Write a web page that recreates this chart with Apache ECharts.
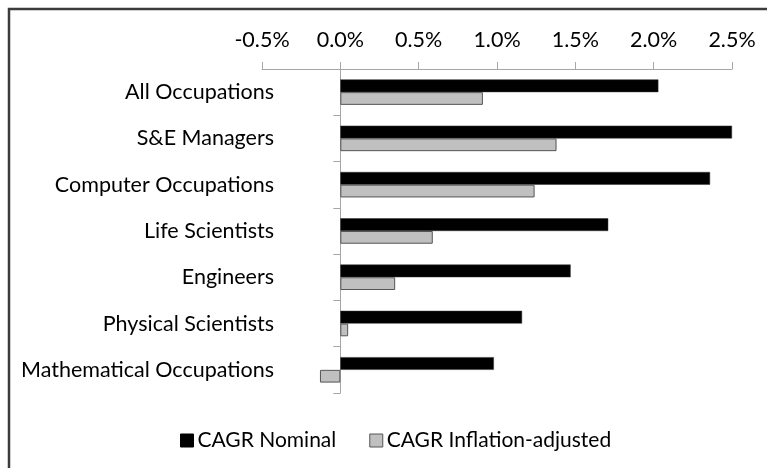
<!DOCTYPE html>
<html>
<head>
<meta charset="utf-8">
<script src="https://cdn.jsdelivr.net/npm/echarts@6/dist/echarts.min.js"></script>
<style>
html,body{margin:0;padding:0;background:#fff;}
#chart{width:767px;height:468px;}
</style>
</head>
<body>
<div id="chart"></div>
<script>
var categories = ["All Occupations","S&E Managers","Computer Occupations","Life Scientists","Engineers","Physical Scientists","Mathematical Occupations"];
var nominal = [2.03, 2.50, 2.36, 1.71, 1.47, 1.16, 0.98];
var inflationAdjusted = [0.91, 1.38, 1.24, 0.59, 0.35, 0.05, -0.13];
var seriesNames = ["CAGR Nominal", "CAGR Inflation-adjusted"];
var axisMin = -0.5, axisMax = 2.5, axisStep = 0.5;

var FONT = 'Lato';
var chart = echarts.init(document.getElementById('chart'), null, {renderer:'canvas'});
chart.setOption({
  animation: false,
  backgroundColor: '#fff',
  textStyle: {fontFamily: FONT},
  graphic: [{
    type: 'rect', shape: {x: 9, y: 9, width: 900, height: 600},
    style: {fill: 'none', stroke: '#3c3c3c', lineWidth: 2.5}, silent: true
  }],
  grid: {left: 262, right: 35, top: 69, bottom: 75, containLabel: false, outerBoundsMode: 'none'},
  legend: {
    left: 175, top: 425,
    itemWidth: 13, itemHeight: 13, itemGap: 33,
    icon: 'rect',
    textStyle: {fontFamily: FONT, fontSize: 21, color: '#000', padding: [0,0,0,-1]},
    data: [
      {name: seriesNames[0], itemStyle: {color: '#000', borderColor: '#000', borderWidth: 1}},
      {name: seriesNames[1], itemStyle: {color: '#c0c0c0', borderColor: '#555', borderWidth: 1}}
    ]
  },
  xAxis: {
    type: 'value', position: 'top',
    min: axisMin, max: axisMax, interval: axisStep,
    axisLine: {show: true, lineStyle: {color: '#a6a6a6', width: 1}},
    axisTick: {show: true, length: 7, lineStyle: {color: '#a6a6a6'}},
    splitLine: {show: false},
    axisLabel: {
      margin: 18, fontFamily: FONT, fontSize: 21.5, color: '#000',
      formatter: function(v){ return v.toFixed(1) + '%'; }
    }
  },
  yAxis: {
    type: 'category', inverse: true, data: categories,
    axisLine: {show: true, onZero: true, lineStyle: {color: '#a6a6a6', width: 1}},
    axisTick: {show: true, length: 7, lineStyle: {color: '#a6a6a6'}},
    axisLabel: {margin: -12, fontFamily: FONT, fontSize: 21.5, color: '#000'}
  },
  series: [
    {
      name: seriesNames[0], type: 'bar', data: nominal,
      barGap: '0%', barCategoryGap: '45%',
      itemStyle: {color: '#000', borderColor: '#333', borderWidth: 0.5}
    },
    {
      name: seriesNames[1], type: 'bar', data: inflationAdjusted,
      barGap: '0%', barCategoryGap: '45%',
      itemStyle: {color: '#c0c0c0', borderColor: '#555', borderWidth: 1}
    }
  ]
});
</script>
</body>
</html>
